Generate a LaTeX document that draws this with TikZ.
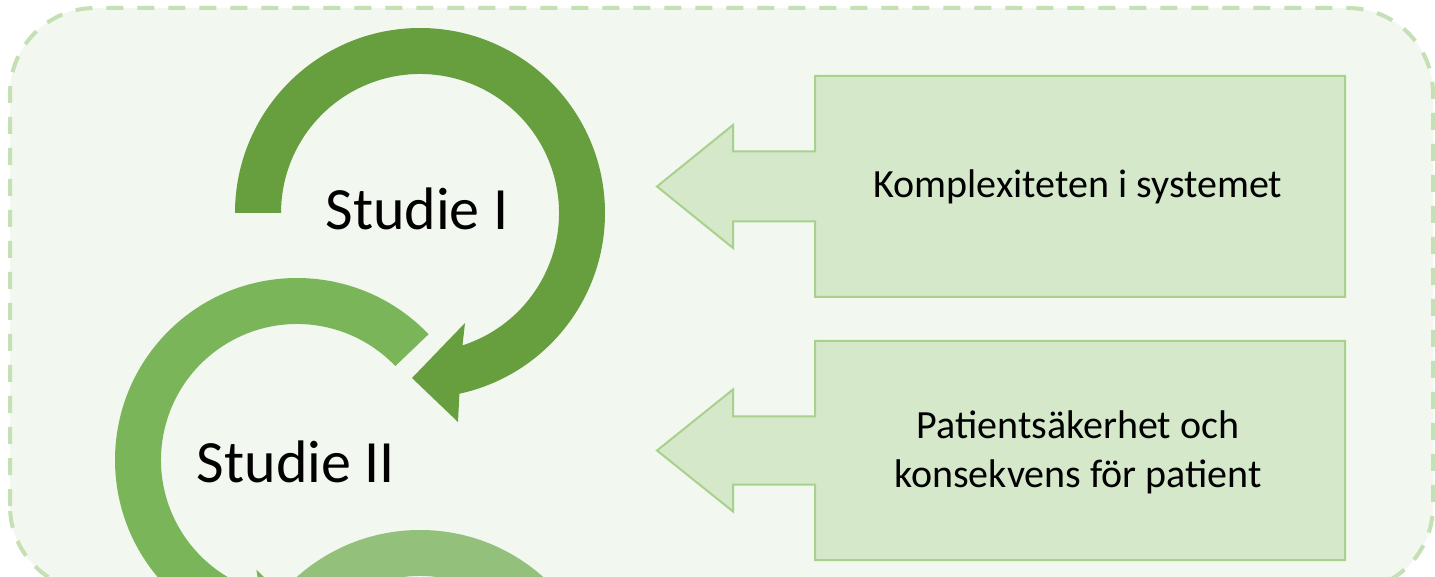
\documentclass[tikz,border=0pt]{standalone}
\usepackage{fontspec}
\setmainfont{Carlito}
\usetikzlibrary{calc}
\definecolor{cdark}{RGB}{103,158,62}
\definecolor{cmid}{RGB}{122,181,89}
\definecolor{clight}{RGB}{147,192,123}
\definecolor{bgfill}{RGB}{242,247,239}
\definecolor{framec}{RGB}{197,224,180}
\definecolor{boxfill}{RGB}{213,232,202}
\definecolor{boxline}{RGB}{169,209,142}
\tikzset{
  frameline/.style={draw=framec, fill=bgfill, line width=4pt, dash pattern=on 17pt off 14pt, rounded corners=85pt},
  callout/.style={draw=boxline, fill=boxfill, line width=2pt, line join=miter},
  boxtext/.style={inner sep=0pt, font=\fontsize{40}{49}\selectfont, align=center, text=black},
  studytext/.style={inner sep=0pt, font=\fontsize{60}{72}\selectfont, text=black}
}
\begin{document}
\begin{tikzpicture}[x=1pt,y=1pt]
\useasboundingbox (0,0) rectangle (1435,576);
\clip (0,0) rectangle (1435,576);
\fill[white] (0,0) rectangle (1435,576);
% frame
\path[frameline] (10,-15) rectangle (1433,568);

% circle centers
\coordinate (c1) at (420,363);
\coordinate (c2) at (297,116);
\coordinate (c3) at (420,-139);

% circle 3 (mostly below the picture)
\fill[clight] ($(c3)+(180:185)$) arc[start angle=180, end angle=-77.7, radius=185]
  -- ($(c3)+(-79.7:212)$) -- ($(c3)+(-92.8:165)$) -- ($(c3)+(-67.8:119)$)
  -- ($(c3)+(-72.2:139)$) arc[start angle=-72.2, end angle=180, radius=139] -- cycle;

% circle 2
\fill[cmid] ($(c2)+(43.7:182)$) arc[start angle=43.7, end angle=259.6, radius=182]
  -- ($(c2)+(261.6:209)$) -- ($(c2)+(274.7:162.5)$) -- ($(c2)+(249.7:117)$)
  -- ($(c2)+(254.1:136)$) arc[start angle=254.1, end angle=43.7, radius=136] -- cycle;

% circle 1
\fill[cdark] ($(c1)+(180:185)$) arc[start angle=180, end angle=-77.7, radius=185]
  -- (458,154) -- (412,198) -- (465,253)
  -- ($(c1)+(-72.2:139)$) arc[start angle=-72.2, end angle=180, radius=139] -- cycle;

\node[studytext, anchor=base] (s1) at (417,346) {Studie I};
\node[studytext, anchor=base] (s2) at (296,94) {Studie II};

% callout 1
\path[callout] (1345,279) -- (1345,500) -- (815,500) -- (815,424.5) -- (733,424.5)
  -- (733,451) -- (657,389.5) -- (733,328) -- (733,354.5) -- (815,354.5) -- (815,279) -- cycle;
\node[boxtext, anchor=base] (k) at (1078,378) {Komplexiteten i systemet};

% callout 2
\path[callout] (1345,16) -- (1345,235) -- (815,235) -- (815,159.5) -- (733,159.5)
  -- (733,186.5) -- (657,125.5) -- (733,64.5) -- (733,91.5) -- (815,91.5) -- (815,16) -- cycle;
\node[boxtext, anchor=center] (p) at (1078,124) {Patientsäkerhet och\\konsekvens för patient};
\end{tikzpicture}
\end{document}
